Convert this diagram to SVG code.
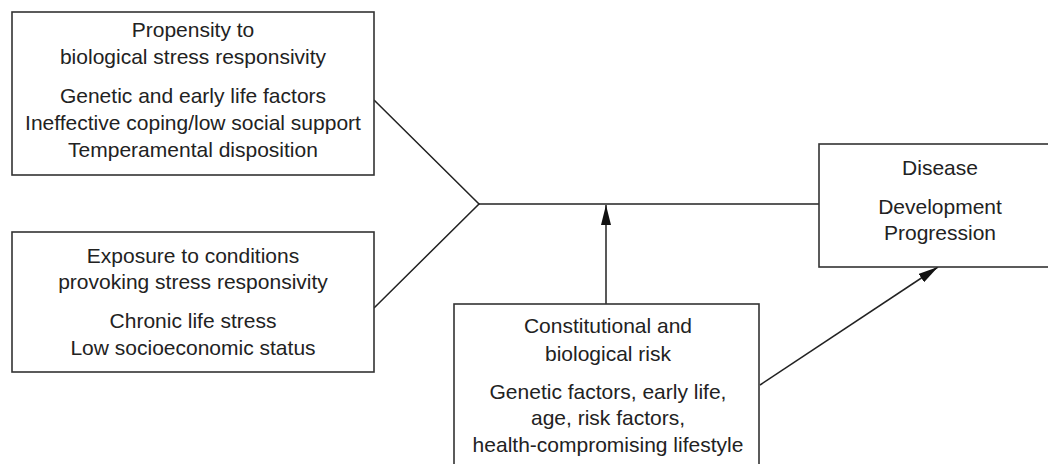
<svg xmlns="http://www.w3.org/2000/svg" width="1048" height="464" viewBox="0 0 1048 464">
<style>
.box{fill:#fff;stroke:#333;stroke-width:1.6}
.t{font-family:"Liberation Sans",Arial,sans-serif;font-size:21px;fill:#222;text-anchor:middle}
.c{stroke:#222;stroke-width:1.5;fill:none}
</style>
<defs>
<marker id="ah2" markerWidth="20" markerHeight="10" refX="20" refY="5" orient="auto" markerUnits="userSpaceOnUse" viewBox="0 0 20 10">
<path d="M0,0 L20,5 L0,10 Z" fill="#111"/>
</marker>
</defs>
<rect width="1048" height="464" fill="#fff"/>
<g id="connectors">
<polyline class="c" points="374,100 479,204 374,308"/>
<line class="c" x1="479" y1="204" x2="819" y2="204"/>
<line class="c" x1="606" y1="304" x2="606" y2="205" marker-end="url(#ah2)"/>
<line class="c" x1="760" y1="385" x2="938" y2="267" marker-end="url(#ah2)"/>
</g>
<g id="propensity">
<rect class="box" x="12" y="12" width="362" height="163"/>
<text class="t" x="193" y="37">Propensity to</text>
<text class="t" x="193" y="64">biological stress responsivity</text>
<text class="t" x="193" y="103">Genetic and early life factors</text>
<text class="t" x="193" y="130">Ineffective coping/low social support</text>
<text class="t" x="193" y="157">Temperamental disposition</text>
</g>
<g id="exposure">
<rect class="box" x="12" y="232" width="362" height="140"/>
<text class="t" x="193" y="263">Exposure to conditions</text>
<text class="t" x="193" y="289">provoking stress responsivity</text>
<text class="t" x="193" y="328">Chronic life stress</text>
<text class="t" x="193" y="355">Low socioeconomic status</text>
</g>
<g id="constitutional">
<rect class="box" x="454" y="304" width="305" height="180"/>
<text class="t" x="608" y="333">Constitutional and</text>
<text class="t" x="608" y="361">biological risk</text>
<text class="t" x="608" y="399">Genetic factors, early life,</text>
<text class="t" x="608" y="425">age, risk factors,</text>
<text class="t" x="608" y="452">health-compromising lifestyle</text>
</g>
<g id="disease">
<rect class="box" x="819" y="144" width="260" height="123"/>
<text class="t" x="940" y="175">Disease</text>
<text class="t" x="940" y="214">Development</text>
<text class="t" x="940" y="240">Progression</text>
</g>
</svg>
